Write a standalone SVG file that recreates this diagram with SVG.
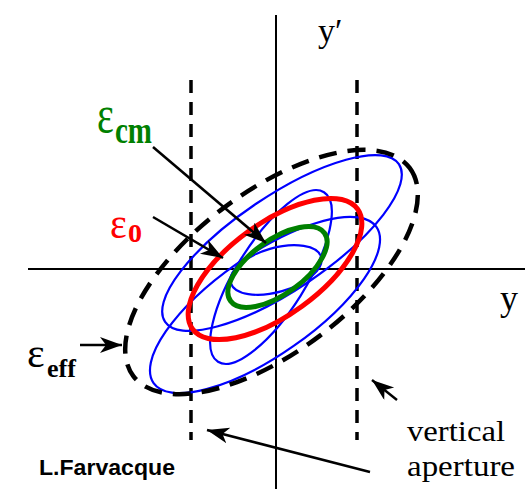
<svg xmlns="http://www.w3.org/2000/svg" width="532" height="489" viewBox="0 0 532 489">
<style>
.axis{stroke:#000;stroke-width:2;fill:none}
.vdash{stroke:#000;stroke-width:3.5;stroke-dasharray:13 9;fill:none}
.blue{stroke:#0000ff;stroke-width:2.2;fill:none}
.red{stroke:#ff0000;stroke-width:5;fill:none}
.green{stroke:#008000;stroke-width:5;fill:none}
.eff{stroke:#000;stroke-width:4.5;stroke-dasharray:18 11;fill:none}
.arr{stroke:#000;stroke-width:2.5;fill:none;marker-end:url(#ah)}
.serif{font-family:"Liberation Serif","Times New Roman",serif}
.sans{font-family:"Liberation Sans",Arial,sans-serif}
</style>
<defs>
<marker id="ah" markerUnits="userSpaceOnUse" markerWidth="24" markerHeight="18" refX="22" refY="8" orient="auto">
<path d="M0,0 L22,8 L0,16 L6,8 z" fill="#000"/>
</marker>
</defs>
<rect width="532" height="489" fill="#fff"/>
<g id="axes">
<line class="axis" x1="28" y1="269" x2="525" y2="269"/>
<line class="axis" x1="276" y1="15" x2="276" y2="489"/>
<text class="serif" x="318" y="42" font-size="34">y′</text>
<text class="serif" x="500" y="310" font-size="36">y</text>
</g>
<g id="aperture-lines">
<line class="vdash" x1="191" y1="80" x2="191" y2="440"/>
<line class="vdash" x1="357" y1="80" x2="357" y2="440"/>
</g>
<g id="blue-ellipses">
<ellipse class="blue" cx="282" cy="243" rx="141" ry="47" transform="rotate(-34 282 243)"/>
<ellipse class="blue" cx="265" cy="305" rx="136" ry="50" transform="rotate(-35 265 305)"/>
<ellipse class="blue" cx="271" cy="277" rx="100" ry="35" transform="rotate(-58 271 277)"/>
<ellipse class="blue" cx="276" cy="270" rx="47" ry="22" transform="rotate(-16 276 270)"/>
</g>
<g id="eps-0">
<ellipse class="red" cx="275" cy="269" rx="102" ry="46" transform="rotate(-36 275 269)"/>
</g>
<g id="eps-cm">
<ellipse class="green" cx="277.5" cy="267" rx="58" ry="27" transform="rotate(-36 277.5 267)"/>
</g>
<g id="eps-eff">
<ellipse class="eff" cx="271.5" cy="272" rx="173" ry="80" transform="rotate(-37 271.5 272)"/>
</g>
<g id="connectors">
<line class="arr" x1="153" y1="147" x2="266" y2="243"/>
<line class="arr" x1="153" y1="217" x2="223" y2="258"/>
<line class="arr" x1="80" y1="345" x2="122" y2="345"/>
<line class="arr" x1="397" y1="400" x2="372" y2="380"/>
<line class="arr" x1="370" y1="472" x2="207" y2="430"/>
</g>
<g id="label-cm" fill="#008000" class="serif">
<text transform="translate(97,132) scale(1,1.3)" font-size="40">ε</text>
<text transform="translate(115,143) scale(1,1.3)" font-size="29" font-weight="bold">cm</text>
</g>
<g id="label-0" fill="#ff0000" class="serif">
<text transform="translate(110,238) scale(1,1.1)" font-size="40">ε</text>
<text transform="translate(128,242) scale(1,1.3)" font-size="28" font-weight="bold">o</text>
</g>
<g id="label-eff" fill="#000" class="serif">
<text x="27" y="367" font-size="42">ε</text>
<text x="47" y="377" font-size="26" font-weight="bold">eff</text>
</g>
<g id="label-aperture" class="serif" fill="#000">
<text x="407" y="441" font-size="30" textLength="98" lengthAdjust="spacingAndGlyphs">vertical</text>
<text x="407" y="476" font-size="30" textLength="108" lengthAdjust="spacingAndGlyphs">aperture</text>
</g>
<g id="credit">
<text class="sans" x="39" y="475" font-size="22" font-weight="bold" textLength="136" lengthAdjust="spacingAndGlyphs">L.Farvacque</text>
</g>
</svg>
